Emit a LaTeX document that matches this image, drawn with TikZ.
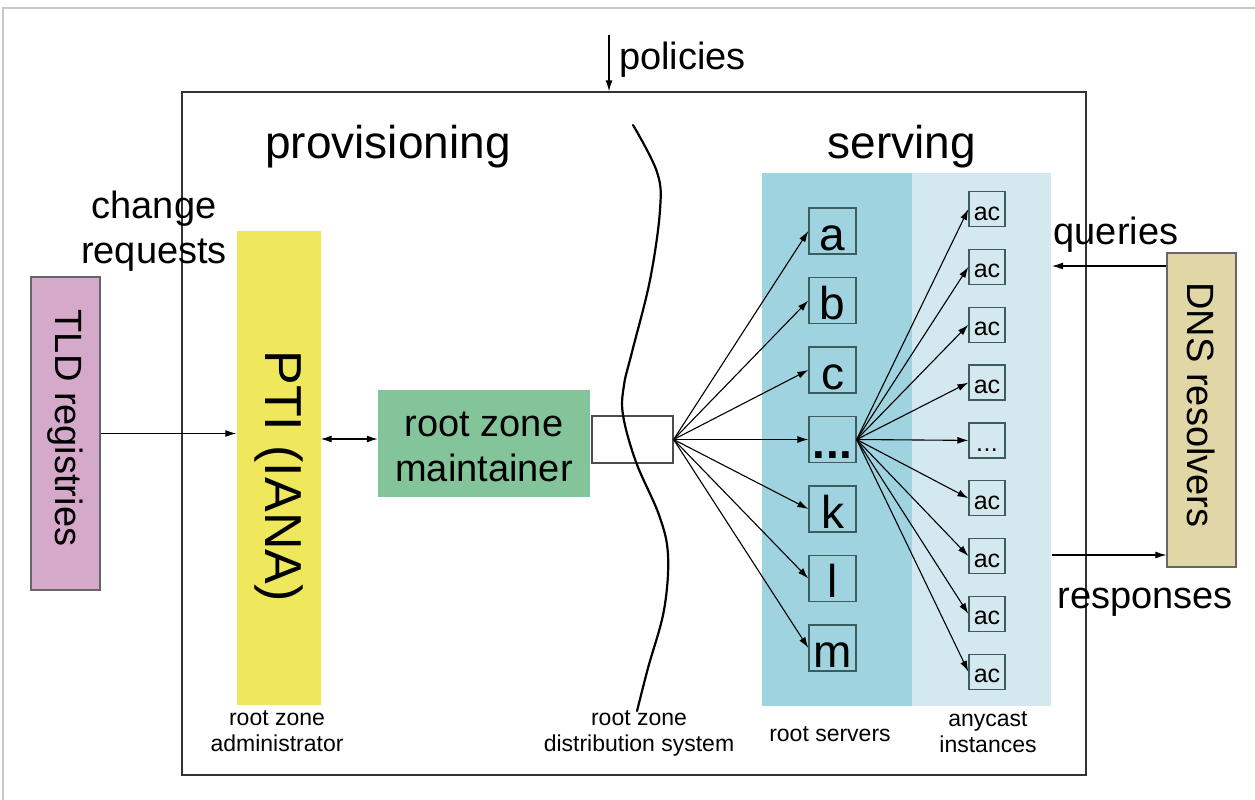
\documentclass[tikz,border=0pt]{standalone}
\usepackage{fontspec}
\setmainfont{Liberation Sans}
\usetikzlibrary{arrows.meta}
\definecolor{framegray}{HTML}{C8C8C8}
\definecolor{tldc}{HTML}{D5A9C9}
\definecolor{ptic}{HTML}{F0E85C}
\definecolor{rzmc}{HTML}{84C49A}
\definecolor{rootc}{HTML}{9ED3DF}
\definecolor{anyc}{HTML}{D4E9EF}
\definecolor{dnsc}{HTML}{E1D6A6}
\definecolor{boxline}{HTML}{3D5C5E}
\newcommand\acdots{.\kern0.5pt.\kern0.5pt.}
\begin{document}
\begin{tikzpicture}[x=1pt,y=-1pt,
  bigtxt/.style={font=\fontsize{38}{45}\selectfont, inner sep=0, align=center},
  titletxt/.style={font=\fontsize{46}{52}\selectfont, inner sep=0},
  smalltxt/.style={font=\fontsize{23}{26}\selectfont, inner sep=0, align=center},
  arr/.style={-{Latex[length=11pt,width=7pt]}, line width=1.1pt},
  darr/.style={{Latex[length=11pt,width=7pt]}-{Latex[length=11pt,width=7pt]}, line width=1.1pt},
  letterbox/.style={draw=boxline, line width=1.3pt, minimum width=47, minimum height=46, inner sep=0,
    font=\fontsize{46}{48}\selectfont, text height=42pt, text depth=4pt},
  acbox/.style={draw=boxline, line width=1.2pt, minimum width=36, minimum height=35, inner sep=0,
    font=\fontsize{25}{27}\selectfont, text height=28pt, text depth=6pt},
  sidebox/.style={draw=black!60, line width=1.2pt, inner sep=0}
]
\useasboundingbox (0,0) rectangle (1255,800);
\draw[framegray, line width=2.5pt] (3,800) -- (3,8) -- (1255,8);

% main frame
\node[draw=black!80, line width=1.5pt, minimum width=904, minimum height=683, inner sep=0] (main) at (634,433.5) {};

% policies
\coordinate (pol) at (609,35);
\draw[arr] (pol) -- (pol |- main.north);
\node[bigtxt, anchor=west] (poltxt) at (619,60) {policies};

% titles
\node[titletxt] (prov) at (388,147) {provisioning};
\node[titletxt] (serv) at (902,147) {serving};
\node[bigtxt] (chg) at (154,231) {change\\requests};

% serving panels
\node[fill=rootc, inner sep=0, minimum width=150, minimum height=533] (rootp) at (837,439.5) {};
\node[fill=anyc, inner sep=0, minimum width=139, minimum height=533] (anyp) at (981.5,439.5) {};

% left boxes
\node[sidebox, fill=tldc, minimum width=69, minimum height=313] (tld) at (65.5,433.5) {};
\node[bigtxt, rotate=-90] (tldtxt) at (65.5,428) {TLD registries};
\node[fill=ptic, inner sep=0, minimum width=84, minimum height=474] (pti) at (278.5,468) {};
\node[font=\fontsize{52}{54}\selectfont, inner sep=0, rotate=-90] (ptitxt) at (278.5,476) {PTI (IANA)};
\node[fill=rzmc, inner sep=0, minimum width=212, minimum height=107] (rzm) at (484,443.5) {};
\node[bigtxt] (rzmtxt) at (484,447) {root zone\\maintainer};

\draw[arr] (tld.east) -- (tld.east -| pti.west);
\draw[darr] ([yshift=4.5pt]rzm.west -| pti.east) -- ([yshift=4.5pt]rzm.west);

% distribution box
\node[draw=black!70, line width=1.2pt, fill=white, minimum width=81, minimum height=47, inner sep=0] (wb) at (632.5,439.5) {};

% root server boxes
\node[letterbox] (sa) at (832.5,231) {a};
\node[letterbox] (sb) at (832.5,300.5) {b};
\node[letterbox] (sc) at (832.5,370) {c};
\node[letterbox] (sd) at (832.5,439.5) {\textbf{.\kern1pt.\kern1pt.}};
\node[letterbox] (sk) at (832.5,509) {k};
\node[letterbox] (sl) at (832.5,578.5) {l};
\node[letterbox] (sm) at (832.5,648) {m};

\foreach \n in {sa,sb,sc,sd,sk,sl,sm}
  \draw[arr] (wb.east) -- (\n.west);

% anycast boxes
\foreach \i in {0,1,2,3,5,6,7,8}
  \node[acbox] (ac\i) at (987,209+57.85*\i) {ac};
\node[acbox] (ac4) at (987,209+57.85*4) {\acdots};
\foreach \i in {0,...,8}
  \draw[arr] (sd.east) -- (ac\i.west);

% wave
\draw[line width=2.2pt, line cap=round] plot[smooth, tension=0.6] coordinates {
  (633,125) (657,172) (660,210) (650,280) (632,352) (624,385) (623,415)
  (636,462) (659,515) (668,555) (664,610) (648,668) (637,711)};

% DNS resolvers
\node[sidebox, fill=dnsc, minimum width=69, minimum height=314] (dns) at (1201.5,410) {};
\node[bigtxt, rotate=-90] (dnstxt) at (1201.5,405) {DNS resolvers};
\coordinate (qend) at (1052,266);
\draw[arr] (qend -| dns.west) -- (qend);
\coordinate (rstart) at (1052,555);
\draw[arr] (rstart) -- (rstart -| dns.west);
\node[bigtxt] (qtxt) at (1116,235) {queries};
\node[bigtxt] (rtxt) at (1145,602) {responses};

% bottom labels
\node[smalltxt] (l1) at (277,731) {root zone\\administrator};
\node[smalltxt] (l2) at (639,733) {root zone\\distribution system};
\node[smalltxt] (l3) at (830,734) {root servers};
\node[smalltxt] (l4) at (988,732) {anycast\\instances};
\end{tikzpicture}
\end{document}
